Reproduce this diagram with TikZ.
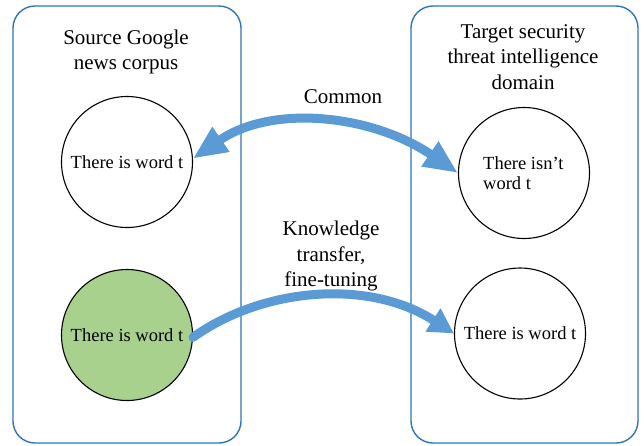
\documentclass[tikz,border=0pt]{standalone}
\usepackage{fontspec}
\setmainfont{Liberation Serif}
\usetikzlibrary{arrows.meta}
\definecolor{panelblue}{HTML}{2E75B6}
\definecolor{flowblue}{HTML}{5B9BD5}
\definecolor{wordgreen}{HTML}{A9D18E}
\tikzset{
  panel/.style={draw=panelblue, line width=1.4pt, rounded corners=22pt},
  wordcircle/.style={circle, draw=black, line width=1.1pt, minimum size=131pt, inner sep=0pt,
    font=\fontsize{18.5}{20.5}\selectfont, align=center},
  heading/.style={font=\fontsize{21}{25.5}\selectfont, align=center, inner sep=0pt},
  flow/.style={draw=flowblue, line width=9pt},
  bighead/.style={Triangle[length=34pt,width=28pt]},
  smallhead/.style={Triangle[length=25pt,width=26pt]}
}
\begin{document}
\begin{tikzpicture}[x=1pt,y=-1pt]
  \useasboundingbox (0,0) rectangle (644,445);
  \fill[white] (0,0) rectangle (644,445);

  % the two domain panels
  \draw[panel] (13,6) rectangle (241,443);
  \draw[panel] (411,6) rectangle (638,443);

  % panel headings
  \node[heading] (srchead) at (126,52) {Source Google\\news corpus};
  \node[heading] (tgthead) at (523,57) {Target security\\threat intelligence\\domain};

  % word circles
  \node[wordcircle] (srcA) at (127,162) {There is word t};
  \node[wordcircle, fill=wordgreen] (srcB) at (127,335) {There is word t};
  \node[wordcircle] (tgtA) at (524,173) {};
  \node[font=\fontsize{18.5}{20.5}\selectfont, align=left, anchor=west, inner sep=0pt] (tgtAtext) at (483,173) {There isn’t\\word t};
  \node[wordcircle] (tgtB) at (520,333.5) {There is word t};

  % connectors
  \draw[flow, {Triangle[length=34pt,width=28pt]}-{Triangle[length=34pt,width=28pt]}]
    (srcA.3) .. controls +(80,-55) and +(-85,-58) .. (tgtA.west);
  \draw[flow, line cap=round, -{Triangle[length=25pt,width=26pt]}]
    (srcB.-2) .. controls +(70,-50) and +(-85,-55) .. (tgtB.west);

  % connector labels
  \node[heading] (common) at (343,97) {Common};
  \node[heading] (transfer) at (331,256) {Knowledge\\transfer,\\fine-tuning};
\end{tikzpicture}
\end{document}
